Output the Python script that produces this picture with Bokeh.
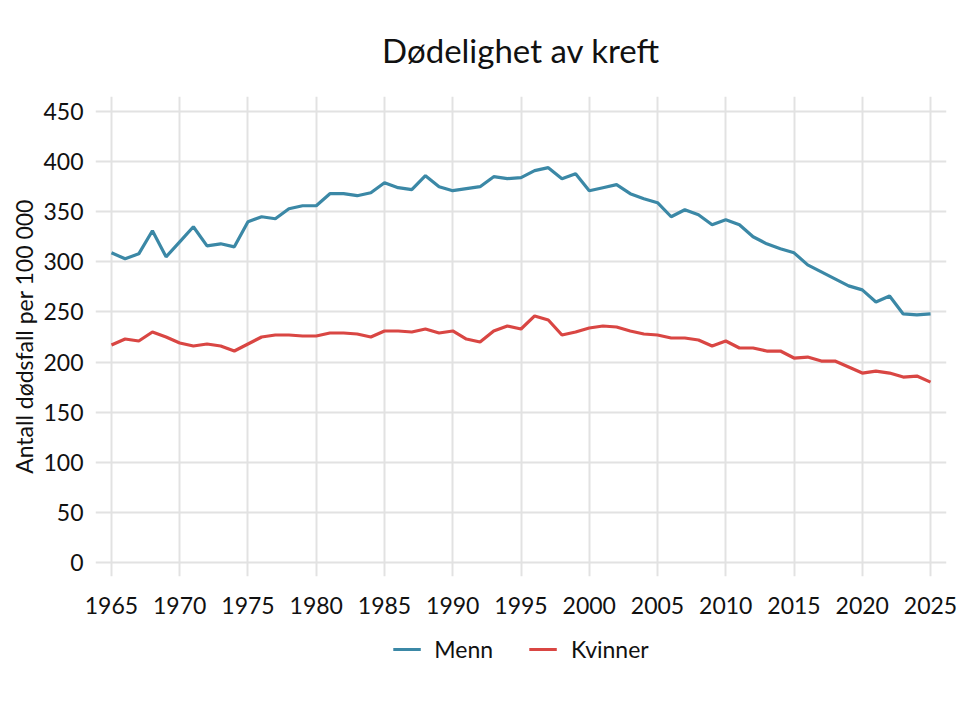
from bokeh.plotting import figure
from bokeh.layouts import column
from bokeh.models import Range1d, FixedTicker, Legend, LegendItem, ColumnDataSource
from bokeh.embed import file_html
from bokeh.resources import INLINE

# Cancer mortality per 100 000, Norway
years = list(range(1965, 2026))
menn = [309, 303, 308, 331, 305, 320, 335, 316, 318, 315,
        340, 345, 343, 353, 356, 356, 368, 368, 366, 369,
        379, 374, 372, 386, 375, 371, 373, 375, 385, 383,
        384, 391, 394, 383, 388, 371, 374, 377, 368, 363,
        359, 345, 352, 347, 337, 342, 337, 325, 318, 313,
        309, 297, 290, 283, 276, 272, 260, 266, 248, 247,
        248]
kvinner = [217, 223, 221, 230, 225, 219, 216, 218, 216, 211,
           218, 225, 227, 227, 226, 226, 229, 229, 228, 225,
           231, 231, 230, 233, 229, 231, 223, 220, 231, 236,
           233, 246, 242, 227, 230, 234, 236, 235, 231, 228,
           227, 224, 224, 222, 216, 221, 214, 214, 211, 211,
           204, 205, 201, 201, 195, 189, 191, 189, 185, 186,
           180]
series_names = ["Menn", "Kvinner"]
y_ticks = [0, 50, 100, 150, 200, 250, 300, 350, 400, 450]
x_ticks = list(range(1965, 2030, 5))

FONT = "Lato"
BLUE = "#3b88a6"
RED = "#d94643"
GRID = "#e2e2e2"
TXT = "#111111"

src = ColumnDataSource(dict(year=years, menn=menn, kvinner=kvinner))

p = figure(frame_width=851, frame_height=480, output_backend="svg",
           toolbar_location=None,
           x_range=Range1d(1963.83, 2026.17), y_range=Range1d(-14, 465),
           min_border_left=95, min_border_right=24, min_border_top=96,
           min_border_bottom=50)
p.outline_line_color = None
p.background_fill_color = "white"
p.border_fill_color = "white"

p.title.text = "Dødelighet av kreft"
p.title.align = "center"
p.title.text_font = FONT
p.title.text_font_size = "33px"
p.title.text_font_style = "normal"
p.title.text_color = TXT
p.title.standoff = 54

for ax in (p.xaxis[0], p.yaxis[0]):
    ax.axis_line_color = None
    ax.major_tick_line_color = None
    ax.minor_tick_line_color = None
    ax.major_label_text_font = FONT
    ax.major_label_text_font_size = "23px"
    ax.major_label_text_color = TXT

p.xaxis.ticker = FixedTicker(ticks=x_ticks)
p.yaxis.ticker = FixedTicker(ticks=y_ticks)
p.xaxis.major_label_standoff = 14
p.yaxis.major_label_standoff = 6
p.yaxis.axis_label = "Antall dødsfall per 100 000"
p.yaxis.axis_label_text_font = FONT
p.yaxis.axis_label_text_font_size = "23px"
p.yaxis.axis_label_text_font_style = "normal"
p.yaxis.axis_label_text_color = TXT
p.yaxis.axis_label_standoff = 2

p.xgrid.ticker = FixedTicker(ticks=x_ticks)
p.ygrid.ticker = FixedTicker(ticks=y_ticks)
for g in (p.xgrid[0], p.ygrid[0]):
    g.grid_line_color = GRID
    g.grid_line_width = 2

p.line("year", "menn", source=src, line_color=BLUE, line_width=3.2)
p.line("year", "kvinner", source=src, line_color=RED, line_width=3.2)

# Legend strip underneath the chart; its series sit outside the strip's
# ranges so only the legend entries are visible
leg = figure(width=970, height=80, output_backend="svg", toolbar_location=None,
             x_range=Range1d(0, 1), y_range=Range1d(0, 1),
             min_border_left=95, min_border_right=24, min_border_top=0,
             min_border_bottom=0)
leg.outline_line_color = None
leg.axis.visible = False
leg.grid.visible = False
leg_m = leg.line("year", "menn", source=src, line_color=BLUE, line_width=3.2)
leg_k = leg.line("year", "kvinner", source=src, line_color=RED, line_width=3.2)

legend = Legend(items=[LegendItem(label=series_names[0], renderers=[leg_m]),
                       LegendItem(label=series_names[1], renderers=[leg_k])],
                orientation="horizontal", location="top_center",
                label_text_font=FONT, label_text_font_size="23px",
                label_text_color=TXT, glyph_width=28, glyph_height=22,
                label_standoff=14, spacing=36, border_line_color=None,
                background_fill_alpha=0, margin=9, padding=4)
leg.add_layout(legend, "center")

open("out.html", "w").write(file_html(column(p, leg, spacing=0), INLINE))
